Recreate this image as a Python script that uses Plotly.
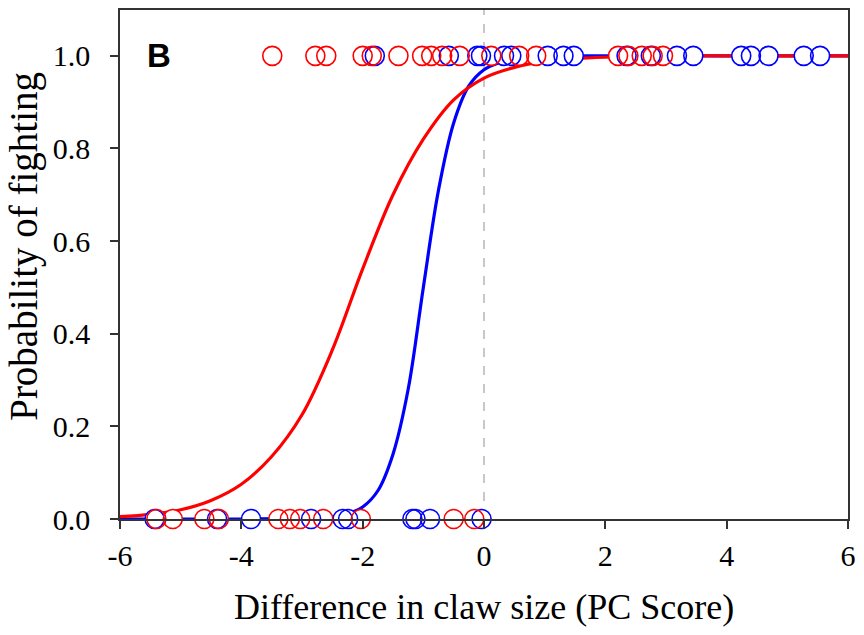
import plotly.graph_objects as go

# Observed outcomes (1 = fought, 0 = did not fight)
blue_fight_x = [-1.80, -0.58, -0.11, -0.05, 0.33, 0.45, 1.05, 1.31, 1.48, 2.35, 2.75,
                3.18, 3.45, 4.24, 4.40, 4.69, 5.27, 5.54]
red_fight_x = [-3.49, -2.78, -2.60, -2.00, -1.85, -1.41, -1.02, -0.87, -0.69, -0.40,
               0.12, 0.58, 0.86, 2.21, 2.38, 2.60, 2.78, 2.95]
blue_nofight_x = [-5.43, -4.40, -3.84, -2.85, -2.33, -2.24, -1.18, -1.13, -0.89, -0.04]
red_nofight_x = [-5.40, -5.13, -4.61, -4.37, -3.39, -3.20, -3.03, -2.65, -2.03, -0.50, -0.16]

# Fitted curves, values
blue_curve_x = [-6, -4, -3, -2.75, -2.5, -2.25, -2, -1.75, -1.5, -1.25, -1, -0.75, -0.5,
                -0.25, 0, 0.25, 0.5, 0.75, 1, 2, 4, 6]
blue_curve_y = [0, 0, 0.001, 0.002, 0.004, 0.011, 0.026, 0.061, 0.14, 0.28, 0.50, 0.71,
                0.855, 0.935, 0.97, 0.985, 0.993, 0.997, 0.999, 1, 1, 1]
red_curve_x = [-6, -5.5, -5, -4.5, -4, -3.5, -3, -2.5, -2, -1.5, -1, -0.5, 0, 0.5, 1,
               1.5, 2, 3, 4.5, 6]
red_curve_y = [0.005, 0.010, 0.020, 0.040, 0.075, 0.135, 0.225, 0.365, 0.54, 0.70, 0.82,
               0.905, 0.952, 0.975, 0.988, 0.994, 0.997, 1.0, 1.0, 1.0]

x_ticks = [-6, -4, -2, 0, 2, 4, 6]
x_tick_labels = ["-6", "-4", "-2", "0", "2", "4", "6"]
y_ticks = [0.0, 0.2, 0.4, 0.6, 0.8, 1.0]
y_tick_labels = ["0.0", "0.2", "0.4", "0.6", "0.8", "1.0"]

BLUE = "#0000ff"
RED = "#ff0000"
MS = 19

fig = go.Figure()

fig.add_trace(go.Scatter(x=blue_curve_x, y=blue_curve_y, mode="lines",
                         line=dict(color=BLUE, width=3.2, shape="spline", smoothing=1),
                         showlegend=False, hoverinfo="skip"))
fig.add_trace(go.Scatter(x=red_curve_x, y=red_curve_y, mode="lines",
                         line=dict(color=RED, width=3.2, shape="spline", smoothing=1),
                         showlegend=False, hoverinfo="skip"))

all_x = blue_fight_x + red_fight_x + blue_nofight_x + red_nofight_x
all_y = ([1] * len(blue_fight_x) + [1] * len(red_fight_x)
         + [0] * len(blue_nofight_x) + [0] * len(red_nofight_x))
# white fills hiding the lines
fig.add_trace(go.Scatter(x=all_x, y=all_y, mode="markers",
                         marker=dict(symbol="circle", size=MS, color="white",
                                     line=dict(width=0)),
                         cliponaxis=False, showlegend=False, hoverinfo="skip"))
fig.add_trace(go.Scatter(x=blue_fight_x + blue_nofight_x,
                         y=[1] * len(blue_fight_x) + [0] * len(blue_nofight_x),
                         mode="markers",
                         marker=dict(symbol="circle-open", size=MS, color=BLUE,
                                     line=dict(width=1.6, color=BLUE)),
                         cliponaxis=False, showlegend=False))
fig.add_trace(go.Scatter(x=red_fight_x + red_nofight_x,
                         y=[1] * len(red_fight_x) + [0] * len(red_nofight_x),
                         mode="markers",
                         marker=dict(symbol="circle-open", size=MS, color=RED,
                                     line=dict(width=1.6, color=RED)),
                         cliponaxis=False, showlegend=False))

fig.add_shape(type="line", x0=0, x1=0, y0=0, y1=1.099, xref="x", yref="y",
              line=dict(color="#c8c8c8", width=2, dash="dash"), layer="below")

fig.add_annotation(x=-5.35, y=1.0, xref="x", yref="y", text="<b>B</b>", showarrow=False,
                   font=dict(family="Liberation Sans, Arial", size=33, color="black"),
                   xanchor="center", yanchor="middle")

# axis titles
fig.add_annotation(x=0.5, y=-0.172, xref="paper", yref="paper",
                   text="Difference in claw size (PC Score)", showarrow=False,
                   font=dict(size=36), xanchor="center", yanchor="middle")
fig.add_annotation(x=-0.131, y=0.536, xref="paper", yref="paper",
                   text="Probability of fighting", showarrow=False, textangle=-90,
                   font=dict(size=39), xanchor="center", yanchor="middle")

fig.update_layout(
    width=864, height=635,
    margin=dict(l=120, r=9, t=8, b=116),
    paper_bgcolor="white", plot_bgcolor="white",
    font=dict(family="Liberation Serif, Times New Roman", color="black"),
)
fig.update_xaxes(range=[-6, 6], tickvals=x_ticks, ticktext=x_tick_labels,
                 ticks="outside", ticklen=8, tickwidth=1.5,
                 tickcolor="#333", showline=True, linecolor="#333", linewidth=1.5,
                 mirror=True, showgrid=False, zeroline=False,
                 tickfont=dict(size=30), ticklabelstandoff=1)
fig.update_yaxes(range=[0, 1.099], tickvals=y_ticks, ticktext=y_tick_labels,
                 ticks="outside", ticklen=8, tickwidth=1.5,
                 tickcolor="#333", showline=True, linecolor="#333", linewidth=1.5,
                 mirror=True, showgrid=False, zeroline=False,
                 tickfont=dict(size=30), ticklabelstandoff=14)

fig.write_html("out.html")
